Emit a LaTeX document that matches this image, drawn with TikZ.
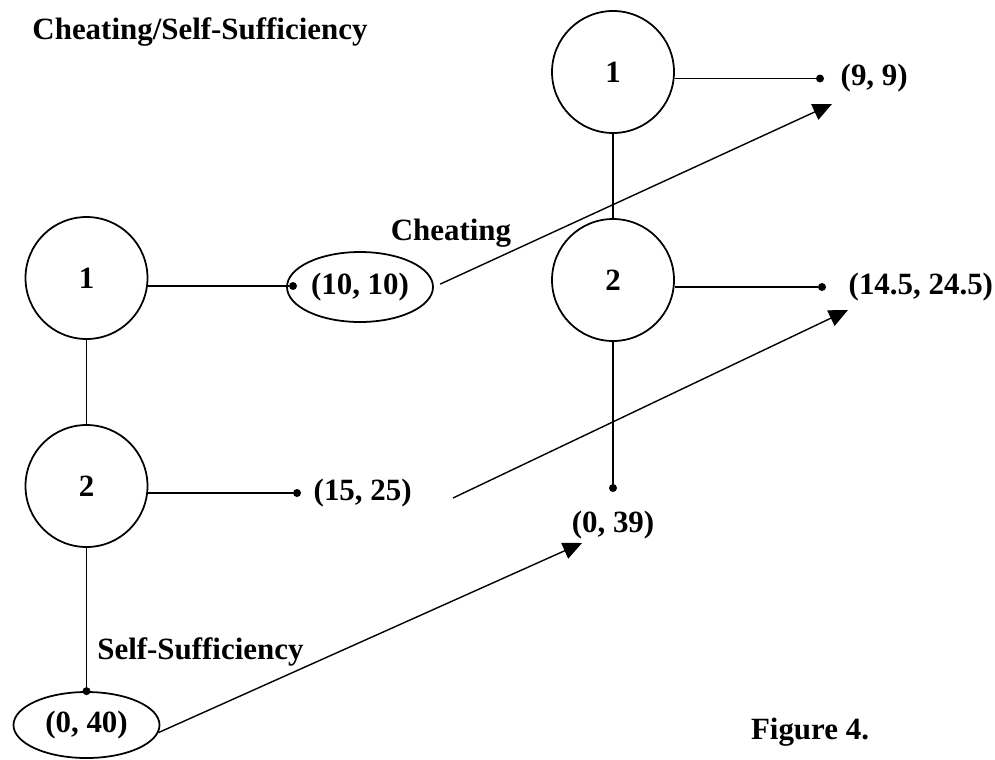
\documentclass[tikz,border=0pt]{standalone}
\usepackage{fontspec}
\setmainfont{Liberation Serif}[Ligatures=CommonOff]
\usetikzlibrary{shapes.geometric, arrows.meta, positioning}
\tikzstyle{player} = [circle, minimum size=2.44cm, inner sep=0pt, draw=black, line width=1pt]
\tikzstyle{payoff} = [ellipse, minimum width=2.92cm, minimum height=1.4cm, inner sep=0pt, draw=black, line width=1pt]
\tikzstyle{leaf} = [circle, fill=black, inner sep=0pt, minimum size=0.16cm]
\tikzstyle{txt} = [inner sep=0pt, anchor=west]
\tikzstyle{branch} = [line width=1pt]
\tikzstyle{arrow} = [line width=0.8pt, -{Triangle[length=0.38cm, width=0.34cm]}]
\begin{document}
\begin{tikzpicture}[font=\fontsize{17.6}{20}\selectfont\bfseries]
\useasboundingbox (0,0) rectangle (19.9,-15.18);

    % Nodes
    \node (title) at (4.0,-0.64) {Cheating/Self-Sufficiency};

    \node (p1L) [player] at (1.73,-5.56) {1};
    \node (p2L) [player] at (1.73,-9.72) {2};
    \node (d10) [leaf] at (5.86,-5.72) {};
    \node (e10) [payoff] at (7.2,-5.74) {(10, 10)};
    \node (d1525) [leaf] at (5.94,-9.86) {};
    \node (t1525) [txt, right=0.24cm of d1525] {(15, 25)};
    \node (e40) [payoff, minimum height=1.32cm] at (1.73,-14.5) {(0, 40)};
    \node (d40) [leaf] at (e40.north) {};
    \node (cheat) at (9.02,-4.66) {Cheating};
    \node (self) [txt] at (1.94,-13.04) {Self-Sufficiency};

    \node (p1R) [player] at (12.26,-1.44) {1};
    \node (p2R) [player] at (12.26,-5.6) {2};
    \node (d99) [leaf] at (16.4,-1.57) {};
    \node (t99) [txt, right=0.32cm of d99] {(9, 9)};
    \node (d145) [leaf] at (16.44,-5.74) {};
    \node (t145) [txt, right=0.44cm of d145] {(14.5, 24.5)};
    \node (d39) [leaf] at (12.26,-9.76) {};
    \node (t39) [inner sep=0pt, below=0.36cm of d39] {(0, 39)};

    \node (fig) at (16.2,-14.64) {Figure 4.};

    % Arrow ends
    \coordinate (s1525) at (9.06,-9.96);
    \coordinate (a99) at (16.64,-2.08);
    \coordinate (a145) at (16.96,-6.2);
    \coordinate (a39) at (11.64,-10.86);

    % Branches
    \draw [branch] (p1L) -- (p2L);
    \draw [branch] (p2L) -- (d40);
    \draw [branch] (d10 -| p1L.east) -- (d10);
    \draw [branch] (d1525 -| p2L.east) -- (d1525);
    \draw [branch] (p1R) -- (p2R);
    \draw [branch] (p2R) -- (d39);
    \draw [branch] (d99 -| p1R.east) -- (d99);
    \draw [branch] (d145 -| p2R.east) -- (d145);

    % Arrows
    \draw [arrow, shorten <=0.14cm] (e10.east) -- (a99);
    \draw [arrow] (s1525) -- (a145);
    \draw [arrow] (e40.-6) -- (a39);

\end{tikzpicture}
\end{document}
